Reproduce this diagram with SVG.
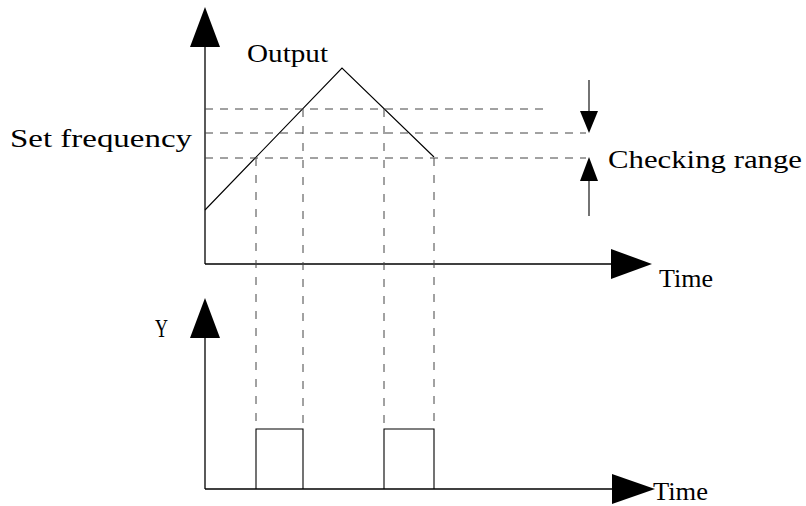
<svg xmlns="http://www.w3.org/2000/svg" width="806" height="506" viewBox="0 0 806 506">
<style>
.ax{stroke:#000;stroke-width:1.3;fill:none}
.ln{stroke:#000;stroke-width:1.1;fill:none}
.hd{stroke:#444;stroke-width:1;stroke-dasharray:8 7;fill:none}
.vd{stroke:#444;stroke-width:1;stroke-dasharray:8 9;fill:none}
.ah{fill:#000;stroke:none}
text{font-family:"Liberation Serif","DejaVu Serif",serif;font-size:26px;fill:#000}
</style>
<rect width="806" height="506" fill="#fff"/>
<g id="top-axes">
<line class="ax" x1="205" y1="40" x2="205" y2="264"/>
<line class="ax" x1="205" y1="264" x2="615" y2="264"/>
<polygon class="ah" points="205,7 190,47 220,47"/>
<polygon class="ah" points="652,264 611,249 611,279"/>
</g>
<g id="bottom-axes">
<line class="ax" x1="205" y1="330" x2="205" y2="489"/>
<line class="ax" x1="205" y1="489" x2="615" y2="489"/>
<polygon class="ah" points="205,298 190,338 220,338"/>
<polygon class="ah" points="655,489 612,474 612,504"/>
</g>
<g id="output-curve">
<polyline class="ln" points="205,210 342,68 434,157"/>
</g>
<g id="pulses">
<polyline class="ln" points="256,489 256,429 303,429 303,489"/>
<polyline class="ln" points="384,489 384,429 434,429 434,489"/>
</g>
<g id="connectors">
<line class="hd" x1="205" y1="109" x2="545" y2="109"/>
<line class="hd" x1="205" y1="133" x2="586" y2="133"/>
<line class="hd" x1="205" y1="158" x2="586" y2="158"/>
<line class="vd" x1="256" y1="158" x2="256" y2="429"/>
<line class="vd" x1="303" y1="109" x2="303" y2="429"/>
<line class="vd" x1="384" y1="109" x2="384" y2="429"/>
<line class="vd" x1="434" y1="158" x2="434" y2="429"/>
<line class="ln" x1="589" y1="80" x2="589" y2="112"/>
<polygon class="ah" points="589,133 580,111 598,111"/>
<line class="ln" x1="589" y1="180" x2="589" y2="216"/>
<polygon class="ah" points="589,157 580,181 598,181"/>
</g>
<g id="labels">
<text x="247" y="62" textLength="81" lengthAdjust="spacingAndGlyphs">Output</text>
<text x="10" y="147" textLength="182" lengthAdjust="spacingAndGlyphs">Set frequency</text>
<text x="608" y="168" textLength="194" lengthAdjust="spacingAndGlyphs">Checking range</text>
<text x="659" y="287" textLength="54" lengthAdjust="spacingAndGlyphs">Time</text>
<text x="653" y="500" textLength="55" lengthAdjust="spacingAndGlyphs">Time</text>
<text x="155" y="337" textLength="13" lengthAdjust="spacingAndGlyphs">Y</text>
</g>
</svg>
